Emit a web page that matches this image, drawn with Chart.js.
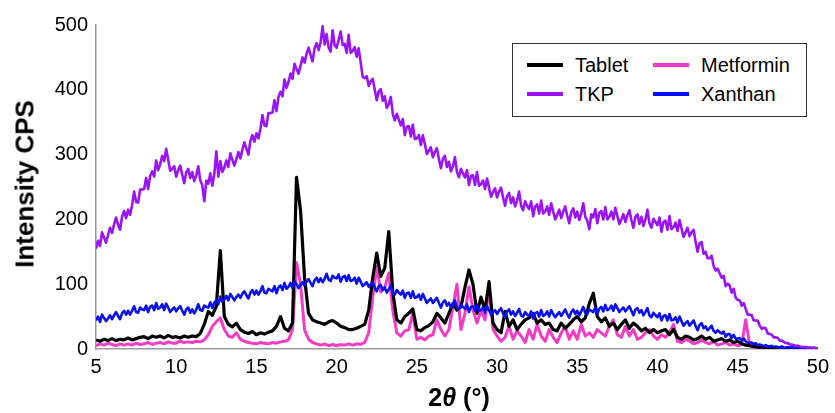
<!DOCTYPE html>
<html>
<head>
<meta charset="utf-8">
<script src="https://cdn.jsdelivr.net/npm/chart.js@4.4.1/dist/chart.umd.min.js"></script>
<style>
  html, body { margin: 0; padding: 0; background: #fff; }
  #wrap { position: relative; width: 835px; height: 413px; font-family: "Liberation Sans", Arial, sans-serif; color: #000; }
  #xrd { position: absolute; left: 0; top: 0; }
  #ytitle { position: absolute; left: 25px; top: 184px; transform: translate(-50%, -50%) rotate(-90deg); font-weight: bold; font-size: 26px; white-space: nowrap; }
  #xtitle { position: absolute; left: 459px; top: 397px; transform: translate(-50%, -50%); font-weight: bold; font-size: 25px; white-space: nowrap; }
  #xtitle i { font-style: italic; }
  #legend { position: absolute; left: 512px; top: 43px; width: 293px; height: 72px; border: 1.5px solid #333; background: #fff; }
  .item { position: absolute; height: 24px; font-size: 20px; line-height: 24px; white-space: nowrap; }
  .item span.swatch { position: absolute; left: 0; top: 10px; width: 36px; height: 4px; }
  .item span.label { position: absolute; left: 48px; top: 0; }
</style>
</head>
<body>
<div id="wrap">
  <canvas id="xrd" width="835" height="413"></canvas>
  <div id="ytitle">Intensity CPS</div>
  <div id="xtitle">2<i>θ</i> (°)</div>
  <div id="legend"></div>
</div>
<script>
// 2-theta sampling grids: 0.25 deg for the crystalline scans, 0.125 deg for the amorphous ones
const coarseTheta = [];
for (let i = 0; i <= 180; i++) coarseTheta.push(5 + i * 0.25);
const fineTheta = [];
for (let i = 0; i <= 360; i++) fineTheta.push(5 + i * 0.125);

const xTicks = { min: 5, max: 50, step: 5 };
const yTicks = { min: 0, max: 500, step: 100 };

// 8 samples per degree, fine grid (one row per degree, 5..49, then 50)
const tkp = [
  155, 167, 159, 180, 172, 164, 176, 187,
  179, 192, 203, 192, 184, 204, 213, 202,
  215, 207, 222, 243, 227, 226, 246, 246,
  247, 264, 247, 267, 274, 266, 291, 276,
  285, 298, 290, 309, 292, 275, 278, 282,
  266, 276, 283, 269, 256, 273, 278, 264,
  273, 259, 268, 282, 260, 253, 228, 260,
  255, 271, 252, 270, 305, 266, 290, 273,
  280, 291, 281, 302, 292, 283, 293, 304,
  294, 308, 319, 309, 300, 321, 330, 320,
  333, 325, 340, 361, 345, 344, 364, 364,
  365, 384, 367, 389, 397, 390, 416, 403,
  412, 425, 417, 440, 432, 425, 437, 450,
  442, 455, 465, 454, 444, 464, 472, 461,
  473, 498, 470, 486, 465, 459, 492, 469,
  465, 477, 490, 469, 471, 457, 485, 457,
  460, 466, 451, 464, 442, 420, 418, 421,
  406, 413, 417, 400, 384, 398, 401, 383,
  390, 372, 378, 389, 363, 353, 363, 354,
  345, 355, 330, 343, 344, 328, 346, 324,
  325, 330, 315, 330, 316, 301, 306, 311,
  296, 304, 310, 293, 279, 294, 298, 281,
  289, 274, 282, 296, 273, 265, 278, 271,
  265, 276, 253, 267, 268, 253, 273, 252,
  254, 260, 247, 263, 249, 235, 242, 248,
  234, 243, 249, 234, 221, 236, 241, 225,
  234, 220, 229, 243, 221, 214, 228, 221,
  216, 228, 205, 220, 223, 209, 229, 209,
  212, 220, 207, 225, 212, 200, 207, 215,
  202, 212, 220, 206, 194, 211, 217, 203,
  212, 199, 209, 225, 204, 198, 185, 208,
  203, 216, 194, 210, 213, 200, 219, 200,
  204, 212, 200, 218, 205, 193, 200, 208,
  196, 206, 214, 199, 187, 204, 208, 193,
  204, 190, 200, 215, 194, 187, 201, 196,
  191, 203, 181, 196, 198, 184, 205, 185,
  188, 195, 182, 199, 186, 173, 180, 187,
  174, 180, 184, 166, 150, 163, 165, 147,
  150, 140, 140, 144, 128, 121, 124, 117,
  110, 113, 97, 101, 98, 87, 93, 79,
  76, 75, 67, 71, 62, 53, 53, 52,
  44, 44, 44, 36, 31, 33, 32, 24,
  23, 22, 18, 18, 17, 13, 13, 11,
  9, 9, 7, 7, 6, 5, 5, 4,
  3, 3, 3, 2, 2, 2, 2, 1,
  1
];

const xanthan = [
  44, 50, 42, 53, 48, 43, 47, 52,
  46, 52, 57, 51, 46, 55, 59, 53,
  59, 53, 59, 66, 57, 56, 64, 61,
  60, 67, 57, 65, 67, 60, 71, 62,
  64, 69, 60, 70, 64, 57, 61, 64,
  58, 63, 66, 59, 53, 61, 64, 56,
  61, 55, 61, 69, 60, 59, 67, 65,
  64, 72, 63, 72, 75, 69, 81, 73,
  76, 82, 75, 85, 80, 75, 80, 84,
  79, 85, 89, 83, 78, 87, 91, 84,
  90, 84, 89, 97, 87, 86, 93, 91,
  89, 97, 86, 95, 98, 91, 102, 93,
  96, 102, 94, 105, 100, 94, 99, 103,
  98, 104, 108, 102, 97, 106, 110, 103,
  109, 103, 108, 116, 107, 105, 113, 110,
  109, 115, 104, 111, 113, 105, 114, 105,
  106, 110, 101, 110, 104, 97, 100, 103,
  96, 100, 103, 95, 89, 97, 99, 91,
  95, 87, 92, 98, 87, 84, 91, 87,
  84, 90, 79, 86, 87, 79, 89, 79,
  80, 84, 76, 85, 78, 71, 75, 78,
  71, 75, 79, 71, 64, 72, 75, 67,
  71, 64, 68, 75, 64, 62, 68, 65,
  62, 69, 57, 65, 66, 59, 68, 59,
  60, 65, 56, 66, 60, 53, 57, 60,
  54, 59, 63, 55, 49, 58, 61, 53,
  58, 51, 56, 62, 52, 50, 57, 53,
  51, 58, 47, 55, 57, 50, 60, 51,
  53, 58, 50, 60, 54, 49, 53, 57,
  51, 56, 61, 54, 48, 57, 61, 54,
  59, 52, 58, 65, 56, 54, 61, 59,
  57, 64, 54, 62, 65, 58, 68, 60,
  62, 67, 59, 69, 63, 57, 61, 64,
  58, 62, 66, 59, 52, 61, 63, 56,
  60, 52, 57, 63, 52, 49, 56, 52,
  49, 55, 44, 51, 52, 44, 54, 44,
  45, 49, 41, 50, 43, 36, 40, 43,
  36, 40, 44, 36, 29, 37, 40, 32,
  35, 29, 32, 36, 28, 25, 29, 26,
  24, 27, 19, 23, 23, 17, 22, 16,
  16, 17, 13, 16, 12, 9, 10, 10,
  7, 9, 6, 7, 6, 4, 6, 4,
  4, 5, 3, 4, 3, 2, 4, 2,
  2, 3, 2, 3, 2, 2, 3, 2,
  2, 2, 1, 2, 2, 1, 2, 1,
  1
];

// 4 samples per degree, coarse grid
const tablet = [
  14, 12, 15, 13,  16, 13, 15, 14,  17, 14, 16, 18,  19, 16, 20, 18,
  20, 17, 21, 18,  19, 17, 20, 18,  20, 19, 24, 38,  58, 52, 66, 152,
  50, 38, 34, 40,  30, 26, 24, 27,  22, 25, 23, 26,  28, 35, 50, 32,
  28, 40, 265, 214,  110, 55, 45, 42,  40, 38, 42, 44,  40, 35, 33, 30,
  30, 32, 35, 38,  60, 110, 148, 112,  125, 181, 88, 45,  40, 50, 55, 62,
  30, 28, 33, 36,  42, 55, 48, 40,  55, 70, 60, 65,  95, 122, 100, 55,
  80, 60, 104, 40,  30, 25, 58, 35,  45, 30, 38, 45,  48, 55, 40, 45,
  38, 40, 30, 28,  40, 32, 38, 45,  50, 42, 48, 70,  86, 50, 42, 48,
  35, 40, 30, 38,  45, 32, 40, 35,  28, 32, 25, 30,  25, 28, 30, 22,
  30, 18, 15, 20,  18, 14, 16, 20,  15, 18, 12, 14,  16, 12, 14, 10,
  12, 8, 6, 5,  4, 3, 3, 2,  2, 1, 1, 1,  1, 0, 1, 0,  0, 0, 0, 0,  0
];

const metformin = [
  5, 8, 6, 9,  7, 5, 8, 6,  8, 6, 9, 7,  8, 10, 7, 9,
  10, 8, 11, 9,  9, 12, 10, 11,  10, 12, 11, 14,  22, 35, 42, 48,
  30, 20, 18, 25,  15, 12, 10, 9,  8, 10, 9, 8,  10, 9, 11, 12,
  14, 30, 133, 100,  30, 15, 10, 8,  6, 8, 5, 7,  5, 7, 6, 8,
  6, 8, 7, 10,  25, 80, 127, 88,  95, 117, 60, 25,  20, 28, 30, 55,
  15, 18, 14, 20,  22, 45, 30, 20,  30, 65, 100, 30,  55, 96, 60, 40,
  60, 45, 94, 30,  20, 12, 18, 35,  15, 28, 20, 10,  30, 15, 38, 20,
  12, 30, 18, 10,  25, 35, 15, 28,  15, 38, 20, 25,  18, 30, 25, 20,
  35, 45, 22, 18,  35, 20, 30, 15,  18, 25, 30, 20,  15, 22, 18, 25,
  38, 12, 10, 15,  12, 8, 10, 14,  10, 8, 12, 6,  8, 10, 6, 8,
  5, 7, 45, 6,  3, 2, 2, 1,  1, 1, 0, 0,  0, 0, 0, 0,  0, 0, 0, 0,  0
];

const COLORS = { tablet: "#000000", metformin: "#f23cc6", tkp: "#9a14f5", xanthan: "#0a0ff0" };

// legend laid out as in the figure: two columns
const legendItems = [
  { label: "Tablet", color: COLORS.tablet, left: 14, top: 9 },
  { label: "Metformin", color: COLORS.metformin, left: 140, top: 9 },
  { label: "TKP", color: COLORS.tkp, left: 14, top: 38 },
  { label: "Xanthan", color: COLORS.xanthan, left: 140, top: 38 },
];
const legendEl = document.getElementById("legend");
legendItems.forEach((it) => {
  const d = document.createElement("div");
  d.className = "item";
  d.style.left = it.left + "px";
  d.style.top = it.top + "px";
  d.innerHTML = `<span class="swatch" style="background:${it.color}"></span><span class="label">${it.label}</span>`;
  legendEl.appendChild(d);
});

function toPoints(xs, ys) {
  return ys.map((y, i) => ({ x: xs[i], y }));
}

function line(label, data, color, width) {
  return { label, data, borderColor: color, backgroundColor: color, borderWidth: width, pointRadius: 0, tension: 0, fill: false, borderJoinStyle: "round" };
}

const axisBorder = { color: "#9a9a9a", width: 1.5 };
const tickFont = { family: "'Liberation Sans', Arial", size: 20 };

new Chart(document.getElementById("xrd"), {
  type: "line",
  data: {
    datasets: [
      line("TKP", toPoints(fineTheta, tkp), COLORS.tkp, 2.6),
      line("Xanthan", toPoints(fineTheta, xanthan), COLORS.xanthan, 2.6),
      line("Tablet", toPoints(coarseTheta, tablet), COLORS.tablet, 3.2),
      line("Metformin", toPoints(coarseTheta, metformin), COLORS.metformin, 3),
    ],
  },
  options: {
    responsive: false,
    animation: false,
    layout: { padding: { top: 25, right: 12, left: 0, bottom: 0 } },
    plugins: { legend: { display: false }, tooltip: { enabled: false } },
    scales: {
      x: {
        type: "linear", min: xTicks.min, max: xTicks.max,
        ticks: { stepSize: xTicks.step, color: "#000", font: tickFont, padding: 6, maxRotation: 0 },
        grid: { display: false, drawTicks: false },
        border: axisBorder,
        afterFit(s) { s.height = 64; },
      },
      y: {
        min: yTicks.min, max: yTicks.max,
        ticks: { stepSize: yTicks.step, color: "#000", font: tickFont, padding: 8 },
        grid: { display: false, drawTicks: false },
        border: axisBorder,
        afterFit(s) { s.width = 96; },
      },
    },
  },
});
</script>
</body>
</html>
